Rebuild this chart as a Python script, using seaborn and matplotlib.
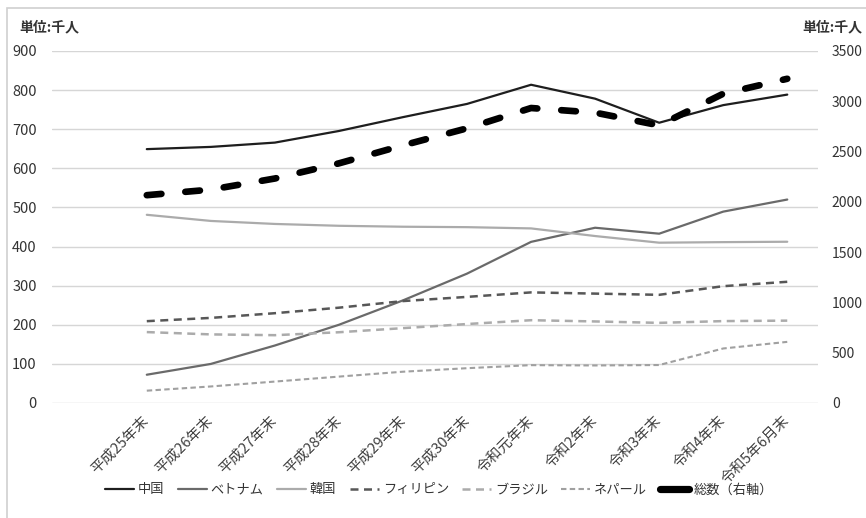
import matplotlib
matplotlib.use("Agg")
import matplotlib.pyplot as plt
from matplotlib.patches import Rectangle
from matplotlib.lines import Line2D
from matplotlib.legend_handler import HandlerLine2D
import numpy as np
import pandas as pd
import seaborn as sns

# Foreign residents by nationality (thousand persons)
periods = ["平成25年末", "平成26年末", "平成27年末", "平成28年末", "平成29年末",
           "平成30年末", "令和元年末", "令和2年末", "令和3年末", "令和4年末", "令和5年6月末"]
china = [649.1, 654.8, 665.8, 695.5, 730.9, 764.7, 813.7, 778.1, 716.6, 761.6, 788.5]
vietnam = [72.3, 99.9, 147.0, 200.0, 262.4, 330.8, 412.0, 448.1, 432.9, 489.3, 520.2]
korea = [481.2, 465.5, 457.8, 453.1, 450.7, 449.6, 446.4, 426.9, 409.9, 411.3, 412.3]
philippines = [209.2, 217.6, 229.6, 243.7, 260.6, 271.3, 282.8, 279.7, 276.6, 298.7, 309.9]
brazil = [181.3, 175.4, 173.4, 180.9, 191.4, 201.9, 211.7, 208.5, 204.9, 209.4, 210.6]
nepal = [31.5, 42.3, 54.8, 67.5, 80.0, 89.0, 96.8, 96.0, 97.1, 139.4, 156.3]
total = [2066.4, 2121.8, 2232.2, 2382.8, 2561.8, 2731.1, 2933.1, 2887.1, 2760.6, 3075.2, 3223.9]

left_ticks = [0, 100, 200, 300, 400, 500, 600, 700, 800, 900]
right_ticks = [0, 500, 1000, 1500, 2000, 2500, 3000, 3500]

sns.set_theme(style="white")
plt.rcParams["font.family"] = ["Noto Sans CJK JP", "DejaVu Sans"]

W, H = 866, 518
fig = plt.figure(figsize=(W / 100, H / 100), dpi=100)
fig.patch.set_facecolor("white")

# light frame around the chart area
fig.patches.append(Rectangle((7 / W, -0.02), 1.05, 1 - 8 / H + 0.02,
                             transform=fig.transFigure, fill=False,
                             edgecolor="#d0d0d0", linewidth=1.2))

x0, x1 = 52, 818
y_top, y_bot = 51, 403
ax = fig.add_axes([x0 / W, 1 - y_bot / H, (x1 - x0) / W, (y_bot - y_top) / H])
ax2 = ax.twinx()

df = pd.DataFrame({
    "idx": np.arange(len(periods)),
    "中国": china, "ベトナム": vietnam, "韓国": korea,
    "フィリピン": philippines, "ブラジル": brazil, "ネパール": nepal,
    "総数（右軸）": total,
})

styles = {
    "中国": dict(color="#1e1e1e", lw=1.6, ls="-"),
    "ベトナム": dict(color="#6a6a6a", lw=1.6, ls="-"),
    "韓国": dict(color="#ababab", lw=1.6, ls="-"),
    "フィリピン": dict(color="#575757", lw=1.8, ls=(0, (3.2, 2.2))),
    "ブラジル": dict(color="#ababab", lw=1.8, ls=(0, (3.2, 2.2))),
    "ネパール": dict(color="#a0a0a0", lw=1.5, ls=(0, (2.6, 1.6))),
}
for name, st in styles.items():
    sns.lineplot(data=df, x="idx", y=name, ax=ax, color=st["color"],
                 linewidth=st["lw"], linestyle=st["ls"], label=name, legend=False)

sns.lineplot(data=df, x="idx", y="総数（右軸）", ax=ax2, color="black",
             linewidth=4.8, linestyle=(0, (2.2, 3.6)), label="総数（右軸）",
             legend=False)
for ln in ax2.lines:
    ln.set_dash_capstyle("round")
    ln.set_solid_capstyle("round")

ax.set_xlim(-1.48, 10.48)
ax.set_ylim(0, 900)
ax2.set_ylim(0, 3500)
ax.set_yticks(left_ticks)
ax2.set_yticks(right_ticks)
ax.set_xticks(range(len(periods)))
ax.set_xticklabels(periods, rotation=45, ha="right", va="center",
                   rotation_mode="anchor", fontsize=10.5, color="#404040")
ax.tick_params(axis="x", length=0, pad=11)
ax.tick_params(axis="y", length=0, pad=11, labelsize=10.5, labelcolor="#333333")
ax2.tick_params(axis="y", length=0, pad=10, labelsize=10, labelcolor="#333333")
for lab in ax2.get_yticklabels():
    lab.set_ha("left")

ax.grid(axis="y", color="#d6d6d6", linewidth=1.0)
ax.set_axisbelow(True)
for a in (ax, ax2):
    for sp in a.spines.values():
        sp.set_visible(False)
    a.set_xlabel("")
    a.set_ylabel("")
ax.patch.set_alpha(0)

fig.text(19 / W, 1 - 27 / H, "単位:千人", fontsize=10, fontweight="bold",
         color="#333333", ha="left", va="center")
fig.text(802 / W, 1 - 27 / H, "単位:千人", fontsize=10, fontweight="bold",
         color="#333333", ha="left", va="center")


class ShortBarHandler(HandlerLine2D):
    """Legend key drawn as a short rounded bar, leaving a gap before the text."""

    def create_artists(self, legend, orig_handle, xdescent, ydescent,
                       width, height, fontsize, trans):
        artists = super().create_artists(legend, orig_handle, xdescent, ydescent,
                                         width, height, fontsize, trans)
        for art in artists:
            xd = np.asarray(art.get_xdata(), dtype=float)
            if len(xd) == 2:
                a, b = xd
                art.set_xdata([a + 0.18 * (b - a), b - 0.4 * (b - a)])
        return artists


total_key = Line2D([], [], color="black", linewidth=5.2, solid_capstyle="round")
handles = ax.get_lines()[:6] + [total_key]
labels = list(styles.keys()) + ["総数（右軸）"]
leg = fig.legend(handles, labels, loc="center", bbox_to_anchor=(439 / W, 1 - 490 / H),
                 ncol=7, frameon=False, fontsize=9.5, handlelength=2.2,
                 handletextpad=0.3, columnspacing=1.0, labelcolor="#333333",
                 handler_map={total_key: ShortBarHandler()})

fig.savefig("out.png", dpi=100, facecolor="white")
